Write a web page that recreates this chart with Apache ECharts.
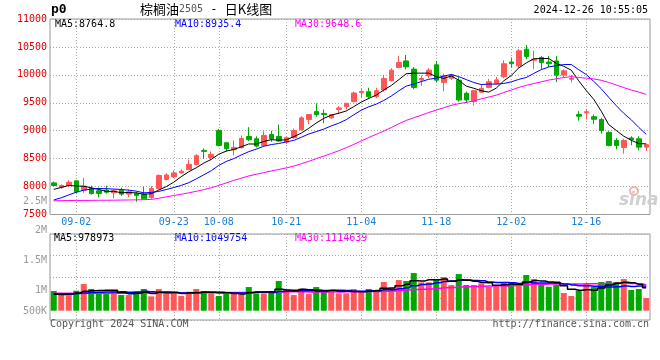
<!DOCTYPE html>
<html><head><meta charset="utf-8">
<script src="https://cdn.jsdelivr.net/npm/echarts@6/dist/echarts.min.js"></script>
<style>html,body{margin:0;padding:0;background:#fff}#c{width:660px;height:360px}</style>
</head><body><div id="c"></div>
<script>
const dates = ['08-28','08-29','08-30',
'09-02','09-03','09-04','09-05','09-06','09-09','09-10','09-11','09-12','09-13',
'09-18','09-19','09-20','09-23','09-24','09-25','09-26','09-27','09-30',
'10-08','10-09','10-10','10-11','10-14','10-15','10-16','10-17','10-18',
'10-21','10-22','10-23','10-24','10-25','10-28','10-29','10-30','10-31',
'11-01','11-04','11-05','11-06','11-07','11-08','11-11','11-12','11-13','11-14','11-15',
'11-18','11-19','11-20','11-21','11-22','11-25','11-26','11-27','11-28','11-29',
'12-02','12-03','12-04','12-05','12-06','12-09','12-10','12-11','12-12','12-13',
'12-16','12-17','12-18','12-19','12-20','12-23','12-24','12-25','12-26'];

const opens = [8066,7990,8020,8102,7936,7966,7924,7936,7888,7936,
7865,7877,7865,7806,7966,8127,8173,8244,8305,8393,
8648,8518,9004,8785,8660,8696,8897,8856,8737,8933,
8897,8795,8875,9017,9200,9342,9310,9230,9383,9430,
9520,9680,9698,9610,9730,9895,10130,10250,10103,9908,
9983,10180,9865,9940,9905,9670,9520,9690,9775,9845,
9965,10230,10160,10460,10262,10310,10230,10250,9995,9920,
9290,9320,9250,9200,8970,8826,8697,8870,8855,8706];

const closes = [8020,8020,8078,7906,8007,7877,7877,7900,7924,7865,
7906,7842,7780,7966,8198,8208,8244,8274,8399,8554,
8630,8577,8737,8678,8700,8862,8840,8725,8915,8856,
8815,8875,9004,9230,9290,9289,9290,9290,9408,9490,
9675,9703,9610,9716,9935,10084,10220,10143,9775,9935,
10084,9905,9983,10000,9550,9550,9716,9760,9877,9910,
10200,10200,10430,10330,10280,10220,10200,9995,10072,9935,
9260,9340,9205,9004,8737,8737,8826,8840,8706,8750];

const lows = [8002,7960,7995,7880,7888,7855,7805,7873,7790,7835,
7810,7728,7770,7780,7950,8110,8150,8240,8292,8380,
8500,8470,8720,8630,8559,8680,8815,8700,8720,8800,
8800,8765,8860,9000,9120,9250,9134,9210,9300,9380,
9510,9600,9570,9580,9700,9880,10120,10100,9740,9800,
9940,9870,9704,9910,9520,9500,9450,9680,9760,9830,
9940,10130,10120,10280,10100,10100,10140,9870,9960,9865,
9180,9200,9120,8950,8720,8665,8590,8740,8650,8640];

const highs = [8091,8038,8114,8110,8155,8016,7980,8016,7950,7980,
7950,7906,7995,8005,8220,8240,8290,8310,8482,8580,
8683,8630,9030,8790,8826,8915,9063,8900,8990,9000,
9110,8900,9040,9260,9290,9490,9380,9300,9440,9500,
9700,9760,9770,9770,10000,10120,10340,10357,10140,9990,
10120,10250,10020,10020,9960,9700,9730,9820,9930,9965,
10260,10310,10460,10535,10430,10340,10340,10340,10100,9995,
9350,9390,9290,9230,8990,8870,8855,8900,8900,8760];

const ma5 = [7950,7985,8020,8010,8006,7978,7949,7913,7917,7889,
7894,7887,7863,7872,7938,7999,8079,8178,8265,8336,
8420,8487,8579,8635,8664,8711,8763,8761,8808,8840,
8830,8837,8893,8956,9043,9138,9221,9278,9313,9353,
9431,9513,9577,9639,9728,9810,9913,10020,10031,10031,
10031,9968,9936,9981,9904,9798,9760,9715,9691,9763,
9893,9989,10123,10214,10288,10292,10292,10205,10153,10084,
9892,9720,9562,9349,9109,9005,8902,8829,8769,8765];

const ma10 = [7760,7800,7850,7900,7935,7955,7965,7962,7955,7948,
7936,7918,7888,7895,7914,7947,7983,8021,8069,8137,
8210,8283,8379,8450,8500,8566,8625,8670,8722,8752,
8771,8800,8827,8882,8942,8984,9029,9086,9135,9198,
9285,9367,9428,9476,9541,9621,9713,9799,9835,9880,
9921,9941,9978,10006,9968,9915,9864,9826,9836,9834,
9846,9875,9919,9953,10026,10093,10141,10164,10184,10186,
10092,10006,9884,9751,9597,9449,9311,9196,9059,8935];

const ma30 = [7745,7748,7750,7752,7752,7753,7755,7755,7756,7758,
7760,7762,7765,7770,7790,7815,7840,7862,7888,7915,
7945,7980,8020,8065,8110,8150,8190,8220,8250,8279,
8306,8334,8365,8409,8452,8499,8546,8592,8642,8696,
8755,8817,8878,8936,8994,9057,9122,9185,9231,9277,
9326,9369,9411,9455,9484,9507,9535,9570,9602,9637,
9684,9728,9775,9812,9845,9876,9906,9930,9952,9967,
9953,9941,9927,9903,9864,9819,9772,9729,9693,9649];

const volumes = [843000,671000,671000,857000,1143000,929000,743000,714000,843000,671000,
671000,814000,929000,614000,929000,743000,743000,629000,814000,929000,
843000,743000,629000,714000,757000,757000,1014000,743000,743000,814000,
1271000,886000,671000,943000,714000,1014000,871000,814000,743000,743000,
929000,843000,929000,886000,1229000,971000,1314000,1271000,1614000,1214000,
1214000,1314000,1443000,1100000,1571000,1100000,1100000,1171000,1029000,1057000,
1186000,1229000,1143000,1529000,1357000,1100000,1029000,1100000,757000,629000,
857000,1143000,1014000,1229000,1271000,1229000,1357000,886000,929000,543000];

const volMa5 = [700000,690000,720000,760000,837000,854000,869000,877000,874000,780000,
728000,743000,786000,740000,791000,806000,792000,732000,772000,772000,
792000,792000,792000,772000,737000,720000,774000,797000,803000,814000,
917000,891000,877000,917000,897000,846000,843000,871000,831000,837000,
820000,814000,837000,866000,963000,972000,1066000,1134000,1280000,1277000,
1325000,1325000,1360000,1257000,1328000,1306000,1263000,1208000,1194000,1091000,
1109000,1134000,1129000,1229000,1289000,1272000,1232000,1223000,1069000,923000,
874000,897000,880000,974000,1103000,1177000,1220000,1194000,1134000,979000];

const volMa10 = [720000,715000,720000,740000,760000,780000,790000,800000,805000,809000,
791000,806000,832000,807000,786000,767000,768000,759000,756000,782000,
799000,792000,762000,772000,755000,756000,783000,795000,788000,776000,
819000,833000,837000,860000,856000,882000,867000,874000,874000,867000,
833000,829000,854000,849000,900000,896000,940000,986000,1073000,1120000,
1149000,1196000,1247000,1269000,1303000,1316000,1294000,1284000,1226000,1210000,
1208000,1199000,1169000,1212000,1190000,1191000,1183000,1176000,1149000,1106000,
1073000,1065000,1052000,1022000,1013000,1026000,1059000,1037000,1054000,1050000];

const volMa30 = [745000,745000,746000,746000,747000,748000,748000,749000,750000,751000,
752000,754000,756000,758000,760000,762000,764000,766000,768000,770000,
772000,774000,776000,778000,780000,782000,784000,786000,788000,789000,
803000,810000,810000,813000,799000,802000,806000,809000,806000,808000,
817000,818000,818000,827000,837000,845000,863000,885000,912000,921000,
934000,953000,979000,993000,1020000,1031000,1034000,1048000,1058000,1066000,
1063000,1075000,1090000,1110000,1131000,1134000,1139000,1149000,1149000,1145000,
1143000,1153000,1156000,1168000,1169000,1178000,1179000,1166000,1143000,1115000];

const dateTicks = ['09-02','09-23','10-08','10-21','11-04','11-18','12-02','12-16'];
const volTickLabels = ['500K','1M','1.5M','2M','2.5M'];

const RED = '#ff5757', GREEN = '#00a800';
const MONO = '"DejaVu Sans Mono", monospace';
const dotted = {color:'#aaa', width:1, type:[1,2]};
const isTick = (i, v) => dateTicks.indexOf(v) >= 0;

const chart = echarts.init(document.getElementById('c'), null, {renderer:'canvas'});

const kData = dates.map((d, i) => [opens[i], closes[i], lows[i], highs[i]]);
const volData = volumes.map((v, i) => ({value: v, itemStyle: {color: closes[i] >= opens[i] ? RED : GREEN}}));

const maLine = (name, data, color, xi, step, w) => ({
  name, type:'line', data, xAxisIndex:xi, yAxisIndex:xi, symbol:'none', step: step || false,
  lineStyle:{color, width:w || 1}, silent:true, z:3
});

chart.setOption({
  animation:false,
  backgroundColor:'#fff',
  grid:[
    {left:50, right:10, top:19, height:195.5, show:true, borderColor:'#999', borderWidth:1},
    {left:50, right:10, top:234, height:76.7},
    {left:50, right:10, top:234, height:86, show:true, borderColor:'#999', borderWidth:1},
    {left:50, right:10, top:201, height:119}
  ],
  xAxis:[
    {gridIndex:0, type:'category', data:dates, boundaryGap:true,
     axisLine:{show:false}, axisTick:{show:false},
     axisLabel:{interval:isTick, color:'#1a7fd4', fontFamily:MONO, fontSize:10, margin:3},
     splitLine:{show:true, interval:isTick, alignWithLabel:true, lineStyle:dotted}},
    {gridIndex:1, type:'category', data:dates, boundaryGap:true, show:false},
    {gridIndex:2, type:'category', data:dates, boundaryGap:true,
     axisLine:{show:false}, axisTick:{show:false}, axisLabel:{show:false},
     splitLine:{show:true, interval:isTick, alignWithLabel:true, lineStyle:dotted}},
    {gridIndex:3, type:'category', data:dates, boundaryGap:true, show:false}
  ],
  yAxis:[
    {gridIndex:0, type:'value', min:7500, max:11000, interval:500,
     axisLine:{show:false}, axisTick:{show:false},
     axisLabel:{color:'#e00000', fontFamily:MONO, fontSize:10, margin:3, formatter:(v) => String(v)},
     splitLine:{show:true, lineStyle:dotted}},
    {gridIndex:1, type:'value', min:0, max:3287000, show:false, splitLine:{show:false}},
    {gridIndex:2, type:'value', inverse:true, min:0, max:86, interval:21.5,
     axisLine:{show:false}, axisTick:{show:false}, axisLabel:{show:false},
     splitLine:{show:true, lineStyle:dotted}},
    {gridIndex:3, type:'value', min:500000, max:2500000, interval:500000,
     axisLine:{show:false}, axisTick:{show:false}, splitLine:{show:false},
     axisLabel:{color:'#999', fontFamily:MONO, fontSize:10, margin:3,
       formatter:(v) => { const k = Math.round((v - 500000) / 500000); const t = volTickLabels[k]; return k === 0 ? '{lift|' + t + '}' : t; },
       rich:{lift:{padding:[0,0,18,0], color:'#999', fontFamily:MONO, fontSize:10}}}}
  ],
  series:[
    {type:'candlestick', data:kData, xAxisIndex:0, yAxisIndex:0, barWidth:5,
     itemStyle:{color:RED, color0:GREEN, borderColor:RED, borderColor0:GREEN, borderWidth:1}, z:2},
    maLine('MA5', ma5, '#000000', 0),
    maLine('MA10', ma10, '#0000ff', 0),
    maLine('MA30', ma30, '#ff00ff', 0),
    {type:'bar', data:volData, xAxisIndex:1, yAxisIndex:1, barWidth:6, silent:true, z:2},
    maLine('VMA30', volMa30, '#ff00ff', 1, 'middle', 1.5),
    maLine('VMA10', volMa10, '#0000ff', 1, 'middle', 1.5),
    maLine('VMA5', volMa5, '#000000', 1, 'middle', 1.5),
    {type:'line', data:[], xAxisIndex:2, yAxisIndex:2, silent:true},
    {type:'line', data:[], xAxisIndex:3, yAxisIndex:3, silent:true}
  ],
  graphic:[
    {type:'text', left:51, top:3, style:{text:'p0', font:'bold 13px ' + MONO, fill:'#000'}},
    {type:'text', left:140, top:3, style:{
      text:'{a|棕榈油}{b|2505}{c| - }{a|日K线图}',
      rich:{
        a:{font:'13px "Noto Sans CJK SC"', fill:'#000'},
        b:{font:'10px ' + MONO, fill:'#555'},
        c:{font:'12px ' + MONO, fill:'#000'}
      }}},
    {type:'text', right:12, top:5, style:{text:'2024-12-26 10:55:05', font:'10px ' + MONO, fill:'#000'}},
    {type:'text', left:55, top:19, style:{text:'MA5:8764.8', font:'10px ' + MONO, fill:'#000'}},
    {type:'text', left:175, top:19, style:{text:'MA10:8935.4', font:'10px ' + MONO, fill:'#0000ff'}},
    {type:'text', left:295, top:19, style:{text:'MA30:9648.6', font:'10px ' + MONO, fill:'#ff00ff'}},
    {type:'text', left:54, top:233, style:{text:'MA5:978973', font:'10px ' + MONO, fill:'#000'}},
    {type:'text', left:175, top:233, style:{text:'MA10:1049754', font:'10px ' + MONO, fill:'#0000ff'}},
    {type:'text', left:295, top:233, style:{text:'MA30:1114639', font:'10px ' + MONO, fill:'#ff00ff'}},
    {type:'text', left:50, top:319, style:{text:'Copyright 2024 SINA.COM', font:'10px ' + MONO, fill:'#555'}},
    {type:'text', right:11, top:319, style:{text:'http://finance.sina.com.cn', font:'10px ' + MONO, fill:'#555'}},
    {type:'circle', shape:{cx:634, cy:191, r:4}, style:{fill:'none', stroke:'#f2b2b2', lineWidth:2}, z:1},
    {type:'text', left:619, top:192, style:{text:'sina', font:'italic bold 17px "DejaVu Sans"', fill:'#cfcfcf'}, z:1}
  ]
});
</script>
</body></html>
